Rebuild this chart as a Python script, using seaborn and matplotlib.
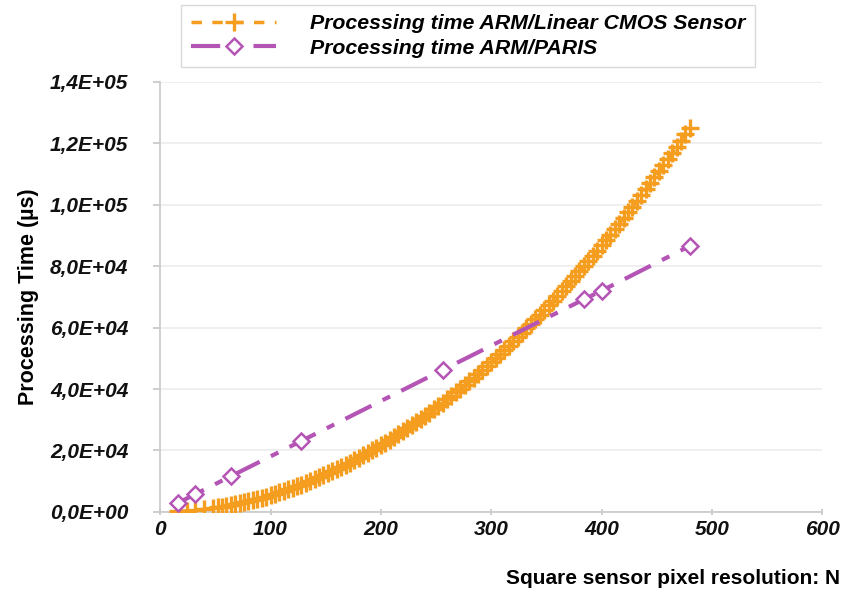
import matplotlib
matplotlib.use("Agg")
import matplotlib.pyplot as plt
import seaborn as sns
import pandas as pd

# ---- data ----
cmos_n = [16, 24, 32, 40, 48] + list(range(52, 481, 4))
cmos_t = [139, 312, 556, 868, 1250,
          1467, 1701, 1953, 2222, 2509, 2812, 3134, 3472, 3828, 4201, 4592, 5000,
          5425, 5868, 6328, 6805, 7300, 7812, 8342, 8888, 9453, 10034, 10633, 11249,
          11883, 12534, 13202, 13888, 14591, 15312, 16049, 16804, 17577, 18367, 19174,
          19999, 20841, 21700, 22577, 23471, 24382, 25311, 26257, 27220, 28201, 29200,
          30215, 31248, 32298, 33366, 34451, 35553, 36673, 37810, 38965, 40136, 41325,
          42532, 43756, 44997, 46256, 47532, 48825, 50136, 51464, 52809, 54172, 55552,
          56949, 58364, 59797, 61246, 62713, 64197, 65699, 67218, 68754, 70308, 71879,
          73468, 75073, 76696, 78337, 79995, 81670, 83363, 85073, 86800, 88545, 90307,
          92086, 93883, 95697, 97528, 99377, 101243, 103127, 105028, 106946, 108882,
          110835, 112805, 114793, 116798, 118821, 120860, 122917, 124992]
paris_n = [16, 32, 64, 128, 256, 384, 400, 480]
paris_t = [2900, 5800, 11600, 23100, 46200, 69200, 72000, 86600]

labels = ["Processing time ARM/Linear CMOS Sensor", "Processing time ARM/PARIS"]
x_label = "Square sensor pixel resolution: N"
y_label = "Processing Time (\u00b5s)"
y_ticks = [0, 20000, 40000, 60000, 80000, 100000, 120000, 140000]
y_ticklabels = ["0,0E+00", "2,0E+04", "4,0E+04", "6,0E+04", "8,0E+04",
                "1,0E+05", "1,2E+05", "1,4E+05"]
x_ticks = [0, 100, 200, 300, 400, 500, 600]

df_cmos = pd.DataFrame({"N": cmos_n, "t": cmos_t})
df_paris = pd.DataFrame({"N": paris_n, "t": paris_t})

ORANGE = "#F59D1E"
PURPLE = "#B455B5"

sns.set_theme(style="white")
plt.rcParams["font.family"] = ["Liberation Sans", "DejaVu Sans"]
plt.rcParams["text.color"] = "black"
plt.rcParams["xtick.color"] = "black"
plt.rcParams["ytick.color"] = "black"
plt.rcParams["axes.labelcolor"] = "black"

fig = plt.figure(figsize=(8.52, 5.98), dpi=100)
ax = fig.add_axes([0.188, 0.144, 0.777, 0.719])

sns.lineplot(data=df_cmos, x="N", y="t", ax=ax, color=ORANGE, linestyle=(0, (3, 3)),
             linewidth=2.5, marker="+", markersize=13, markeredgewidth=2.4,
             markeredgecolor=ORANGE, label=labels[0], sort=False, zorder=3)
sns.lineplot(data=df_paris, x="N", y="t", ax=ax, color=PURPLE, linestyle=(0, (7, 3, 2, 3)),
             linewidth=3, marker="D", markersize=8.5, markeredgewidth=1.8,
             markerfacecolor="white", markeredgecolor=PURPLE, label=labels[1],
             sort=False, zorder=4)

ax.set_xlim(0, 600)
ax.set_ylim(0, 140000)
ax.set_xticks(x_ticks)
ax.set_yticks(y_ticks)
ax.set_yticklabels(y_ticklabels)
ax.set_xticklabels([str(v) for v in x_ticks])
for lab in ax.get_xticklabels() + ax.get_yticklabels():
    lab.set_fontsize(15)
    lab.set_fontweight("bold")
    lab.set_fontstyle("italic")
    lab.set_color("#111111")
ax.tick_params(axis="y", length=5, color="#c8c8c8", pad=18, direction="out", left=True)
ax.tick_params(axis="x", length=5, color="#c8c8c8", pad=3, direction="inout", bottom=True)

ax.grid(axis="y", color="#ececec", linewidth=1.2)
ax.grid(axis="x", visible=False)
for s in ["top", "right"]:
    ax.spines[s].set_visible(False)
for s in ["left", "bottom"]:
    ax.spines[s].set_color("#c8c8c8")
    ax.spines[s].set_linewidth(1.2)

ax.set_xlabel("")
ax.set_ylabel(y_label, fontsize=15.5, fontweight="bold", labelpad=8)
fig.text(0.986, 0.032, x_label, ha="right", va="center", fontsize=15, fontweight="bold")

handles, labs = ax.get_legend_handles_labels()
ax.get_legend().remove()
leg = fig.legend(handles, labs, loc="upper left", bbox_to_anchor=(0.213, 0.992),
                 frameon=True, fancybox=False, edgecolor="#d0d0d0",
                 prop={"size": 15.3, "weight": "bold", "style": "italic"},
                 handlelength=4.0, handletextpad=1.6, borderpad=0.45,
                 labelspacing=0.25, borderaxespad=0)
leg.get_frame().set_linewidth(1.0)

fig.savefig("out.png", dpi=100)
